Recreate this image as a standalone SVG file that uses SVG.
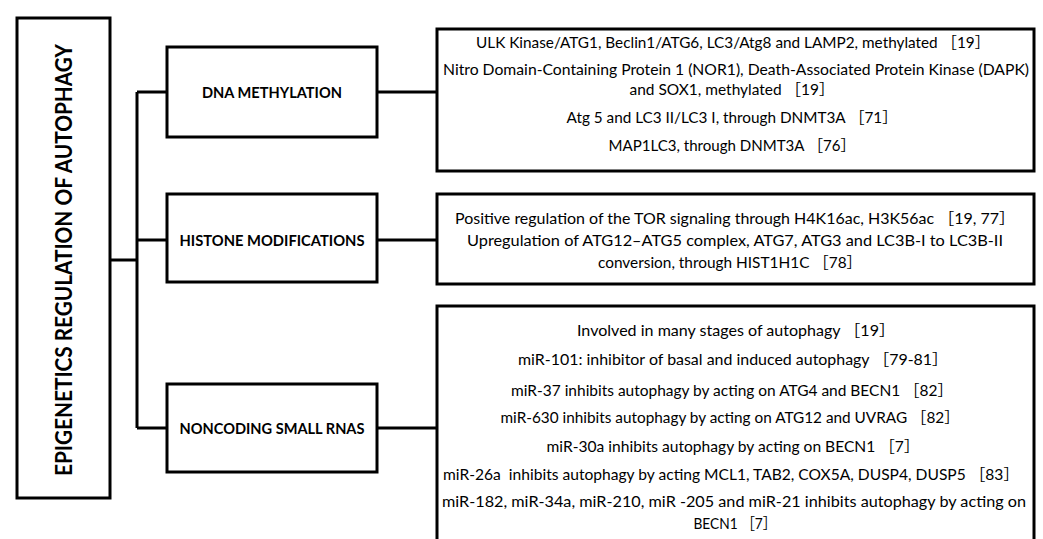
<svg xmlns="http://www.w3.org/2000/svg" width="1043" height="539" viewBox="0 0 1043 539">
<style>
.box{fill:#fff;stroke:#000;stroke-width:3}
.con{fill:none;stroke:#000;stroke-width:3}
.title{font-family:Lato,"Liberation Sans",sans-serif;font-weight:bold;font-size:22px;fill:#000}
.cat{font-family:Lato,"Liberation Sans",sans-serif;font-weight:bold;font-size:15px;fill:#000}
.det{font-family:Lato,"Liberation Sans","Noto Sans CJK JP",sans-serif;font-size:15px;fill:#000}
</style>
<rect width="1043" height="539" fill="#fff"/>
<g id="connectors">
<path class="con" d="M110 260H137M137 92V428M137 92H167M137 240H167M137 428H167M377 92H437M377 240H437M377 428H437"/>
</g>
<g id="title">
<rect class="box" x="17" y="18" width="93" height="480"/>
<text class="title" transform="translate(63 260) rotate(-90)" text-anchor="middle" dominant-baseline="central" textLength="432" lengthAdjust="spacingAndGlyphs">EPIGENETICS REGULATION OF AUTOPHAGY</text>
</g>
<g id="dna">
<rect class="box" x="167" y="47" width="210" height="90"/>
<text class="cat" x="272" y="92" text-anchor="middle" dominant-baseline="central" textLength="140" lengthAdjust="spacingAndGlyphs">DNA METHYLATION</text>
</g>
<g id="histone">
<rect class="box" x="167" y="194" width="210" height="88"/>
<text class="cat" x="272" y="240" text-anchor="middle" dominant-baseline="central" textLength="185" lengthAdjust="spacingAndGlyphs">HISTONE MODIFICATIONS</text>
</g>
<g id="noncoding">
<rect class="box" x="167" y="384" width="210" height="88"/>
<text class="cat" x="272" y="428" text-anchor="middle" dominant-baseline="central" textLength="185" lengthAdjust="spacingAndGlyphs">NONCODING SMALL RNAS</text>
</g>
<g id="dna-details">
<rect class="box" x="437" y="29" width="597" height="142"/>
<g class="det" text-anchor="middle" dominant-baseline="central">
<text x="733" y="42" textLength="514" lengthAdjust="spacingAndGlyphs">ULK Kinase/ATG1, Beclin1/ATG6, LC3/Atg8 and LAMP2, methylated ［19］</text>
<text x="736" y="69" textLength="586" lengthAdjust="spacingAndGlyphs">Nitro Domain-Containing Protein 1 (NOR1), Death-Associated Protein Kinase (DAPK)</text>
<text x="732" y="89" textLength="205" lengthAdjust="spacingAndGlyphs">and SOX1, methylated ［19］</text>
<text x="732" y="117" textLength="331" lengthAdjust="spacingAndGlyphs">Atg 5 and LC3 II/LC3 I, through DNMT3A ［71］</text>
<text x="732" y="145" textLength="247" lengthAdjust="spacingAndGlyphs">MAP1LC3, through DNMT3A ［76］</text>
</g>
</g>
<g id="histone-details">
<rect class="box" x="437" y="194" width="597" height="90"/>
<g class="det" text-anchor="middle" dominant-baseline="central">
<text x="735" y="218" textLength="560" lengthAdjust="spacingAndGlyphs">Positive regulation of the TOR signaling through H4K16ac, H3K56ac ［19, 77］</text>
<text x="735" y="240" textLength="536" lengthAdjust="spacingAndGlyphs">Upregulation of ATG12–ATG5 complex, ATG7, ATG3 and LC3B-I to LC3B-II</text>
<text x="730" y="262" textLength="264" lengthAdjust="spacingAndGlyphs">conversion, through HIST1H1C ［78］</text>
</g>
</g>
<g id="noncoding-details">
<rect class="box" x="437" y="306" width="597" height="260"/>
<g class="det" text-anchor="middle" dominant-baseline="central">
<text x="736" y="330" textLength="318" lengthAdjust="spacingAndGlyphs">Involved in many stages of autophagy ［19］</text>
<text x="733" y="359" textLength="430" lengthAdjust="spacingAndGlyphs">miR-101: inhibitor of basal and induced autophagy ［79-81］</text>
<text x="732" y="390" textLength="442" lengthAdjust="spacingAndGlyphs">miR-37 inhibits autophagy by acting on ATG4 and BECN1 ［82］</text>
<text x="730" y="417" textLength="459" lengthAdjust="spacingAndGlyphs">miR-630 inhibits autophagy by acting on ATG12 and UVRAG ［82］</text>
<text x="733" y="446" textLength="373" lengthAdjust="spacingAndGlyphs">miR-30a inhibits autophagy by acting on BECN1 ［7］</text>
<text x="731" y="474" textLength="576" lengthAdjust="spacingAndGlyphs">miR-26a&#160; inhibits autophagy by acting MCL1, TAB2, COX5A, DUSP4, DUSP5 ［83］</text>
<text x="734" y="501" textLength="584" lengthAdjust="spacingAndGlyphs">miR-182, miR-34a, miR-210, miR -205 and miR-21 inhibits autophagy by acting on</text>
<text x="735" y="523" textLength="83" lengthAdjust="spacingAndGlyphs">BECN1 ［7］</text>
</g>
</g>
</svg>
